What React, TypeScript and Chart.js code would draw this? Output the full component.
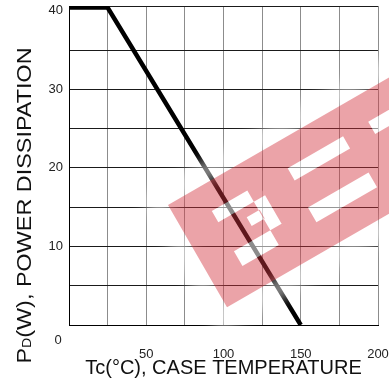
import React, { useEffect, useRef } from "react";
import { Chart, registerables } from "chart.js";

Chart.register(...registerables);

// ---- data ----
const TEMPS = [0, 25, 150]; // Tc (°C)
const POWER = [40.4, 40.4, 0]; // PD (W)
const X_GRID = [0, 25, 50, 75, 100, 125, 150, 175, 200];
const Y_GRID = [0, 5, 10, 15, 20, 25, 30, 35, 40];
const X_LABELS = [50, 100, 150, 200];
const Y_LABELS = [10, 20, 30, 40];
const X_MIN = 0;
const X_MAX = 200;
const Y_MIN = 0;
const Y_MAX = 40.6;
const HIDDEN_Y_GRID = [40];
const ORIGIN_LABEL = "0";
const X_TITLE = "Tc(°C), CASE TEMPERATURE";
const Y_TITLE_PARTS = ["P", "D", "(W), POWER DISSIPATION"];

const FONT = "'Liberation Sans', Arial, Helvetica, sans-serif";

const originLabelPlugin = {
  id: "originLabel",
  afterDraw(chart: any) {
    const { ctx, chartArea } = chart;
    ctx.save();
    ctx.font = `13px ${FONT}`;
    ctx.fillStyle = "#222";
    ctx.textAlign = "center";
    ctx.textBaseline = "middle";
    ctx.fillText(ORIGIN_LABEL, chartArea.left - 11, chartArea.bottom + 15);
    ctx.restore();
  },
};

const yTitlePlugin = {
  id: "yTitle",
  afterDraw(chart: any) {
    const { ctx, chartArea } = chart;
    const big = `20px ${FONT}`;
    const small = `12px ${FONT}`;
    ctx.save();
    ctx.fillStyle = "#111";
    ctx.textBaseline = "middle";
    ctx.textAlign = "left";
    const cx = chartArea.left - 44;
    const cy = (chartArea.top + chartArea.bottom) / 2 + 40;
    ctx.translate(cx, cy);
    ctx.rotate(-Math.PI / 2);
    ctx.scale(1.17, 1);
    ctx.font = big;
    const w0 = ctx.measureText(Y_TITLE_PARTS[0]).width;
    const w2 = ctx.measureText(Y_TITLE_PARTS[2]).width;
    ctx.font = small;
    const w1 = ctx.measureText(Y_TITLE_PARTS[1]).width;
    let x = -(w0 + w1 + w2) / 2;
    ctx.font = big;
    ctx.fillText(Y_TITLE_PARTS[0], x, 0);
    x += w0;
    ctx.font = small;
    ctx.fillText(Y_TITLE_PARTS[1], x, 3);
    x += w1;
    ctx.font = big;
    ctx.fillText(Y_TITLE_PARTS[2], x, 0);
    ctx.restore();
  },
};

// decorative watermark overlay (red band with white cut-outs and a soft white halo)
const watermarkPlugin = {
  id: "watermark",
  afterDatasetsDraw(chart: any) {
    const { ctx, chartArea } = chart;
    const w = chartArea.right - chartArea.left;
    const h = chartArea.bottom - chartArea.top;
    const k = w / 309;
    const ox = chartArea.left + 0.3204 * w;
    const oy = chartArea.top + 0.624 * h;
    const bandLen = 420;
    const bandW = 118;
    const cuts = [
      [35, 27, 54, 13], // left glyph top bar
      [76, 27, 13, 63], // left glyph right side
      [34, 73, 55, 17], // left glyph bottom bar
      [62, 50, 15, 10], // left glyph stub
      [122, 28, 64, 14], // right glyph top bar
      [120, 72, 70, 17], // right glyph bottom bar
      [215, 28, 60, 14], // next glyph
    ];
    ctx.save();
    ctx.translate(ox, oy);
    ctx.rotate(-Math.PI / 6);
    ctx.scale(k, k);
    const m = 20;
    ctx.save();
    ctx.filter = "blur(7px)";
    ctx.beginPath();
    ctx.rect(-m, -m, bandLen + 2 * m, bandW + 2 * m);
    ctx.rect(0, 0, bandLen, bandW);
    ctx.fillStyle = "rgba(255,255,255,0.55)";
    ctx.fill("evenodd");
    ctx.restore();
    ctx.beginPath();
    for (const c of cuts) ctx.rect(c[0], c[1], c[2], c[3]);
    ctx.fillStyle = "rgba(255,255,255,0.55)";
    ctx.fill();
    ctx.beginPath();
    ctx.rect(0, 0, bandLen, bandW);
    for (const c of cuts) ctx.rect(c[0], c[1], c[2], c[3]);
    ctx.fillStyle = "rgba(210,50,62,0.45)";
    ctx.fill("evenodd");
    ctx.restore();
  },
};

export default function App() {
  const ref = useRef<HTMLCanvasElement | null>(null);

  useEffect(() => {
    document.body.style.margin = "0";
    const canvas = ref.current;
    if (!canvas) return;
    const points = TEMPS.map((t, i) => ({ x: t, y: POWER[i] }));
    const chart = new Chart(canvas, {
      type: "line",
      data: {
        datasets: [
          {
            data: points,
            borderColor: "#000",
            borderWidth: 4.5,
            pointRadius: 0,
            tension: 0,
            fill: false,
            borderCapStyle: "butt",
            borderJoinStyle: "miter",
          },
        ],
      },
      options: {
        responsive: false,
        animation: false,
        devicePixelRatio: 1,
        layout: { padding: { top: 6, right: 11, left: 0, bottom: 0 } },
        plugins: {
          legend: { display: false },
          tooltip: { enabled: false },
        },
        scales: {
          x: {
            type: "linear",
            min: X_MIN,
            max: X_MAX,
            afterBuildTicks: (s: any) => {
              s.ticks = X_GRID.map((v) => ({ value: v }));
            },
            afterFit: (s: any) => {
              s.height = 60;
              s.paddingLeft = 0;
              s.paddingRight = 0;
            },
            grid: { color: "#8c8c8c", lineWidth: 1, drawTicks: false },
            border: { color: "#000", width: 1 },
            ticks: {
              padding: 22,
              autoSkip: false,
              maxRotation: 0,
              color: "#222",
              font: { family: FONT, size: 13 },
              callback: (v: any) => (X_LABELS.includes(Number(v)) ? String(v) : ""),
            },
            title: {
              display: true,
              text: X_TITLE,
              color: "#111",
              font: { family: FONT, size: 20, lineHeight: 1.2 },
              padding: { top: 0, bottom: 5 },
            },
          },
          y: {
            type: "linear",
            min: Y_MIN,
            max: Y_MAX,
            afterBuildTicks: (s: any) => {
              s.ticks = [...Y_GRID, Y_MAX].map((v) => ({ value: v }));
            },
            afterFit: (s: any) => {
              s.width = 69;
              s.paddingTop = 0;
              s.paddingBottom = 0;
            },
            grid: {
              color: (c: any) =>
                c.tick && HIDDEN_Y_GRID.includes(c.tick.value) ? "rgba(0,0,0,0)" : "#1a1a1a",
              lineWidth: 1,
              drawTicks: false,
            },
            border: { color: "#000", width: 1 },
            ticks: {
              padding: 6,
              autoSkip: false,
              color: "#222",
              font: { family: FONT, size: 13 },
              callback: (v: any) => (Y_LABELS.includes(Number(v)) ? String(v) : ""),
            },
          },
        },
      },
      plugins: [watermarkPlugin, originLabelPlugin, yTitlePlugin],
    } as any);
    return () => chart.destroy();
  }, []);

  return (
    <div style={{ width: 389, height: 385 }}>
      <canvas ref={ref} width={389} height={385} style={{ display: "block" }} />
    </div>
  );
}
